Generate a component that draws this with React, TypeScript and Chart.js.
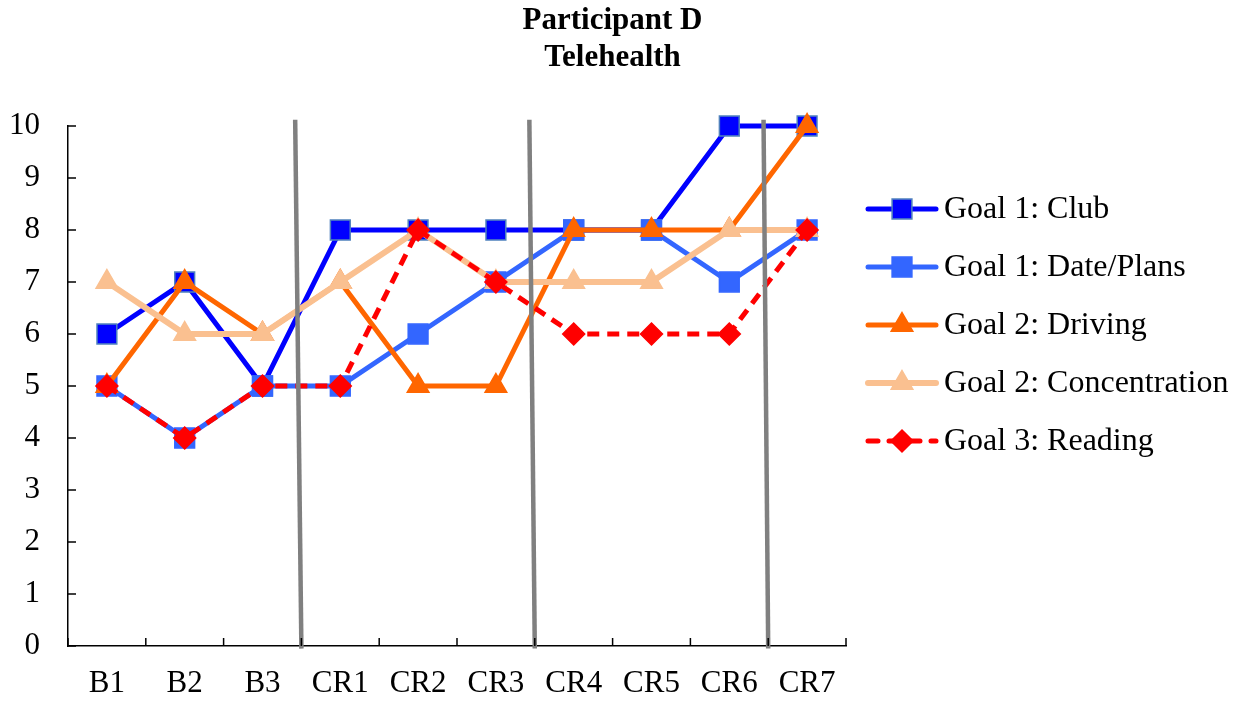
import React, { useEffect, useRef } from "react";
import { Chart, registerables } from "chart.js";

Chart.register(...registerables);

const categories = ["B1", "B2", "B3", "CR1", "CR2", "CR3", "CR4", "CR5", "CR6", "CR7"];
const club = [6, 7, 5, 8, 8, 8, 8, 8, 10, 10];
const datePlans = [5, 4, 5, 5, 6, 7, 8, 8, 7, 8];
const driving = [5, 7, 6, 7, 5, 5, 8, 8, 8, 10];
const concentration = [7, 6, 6, 7, 8, 7, 7, 7, 8, 8];
const reading = [5, 4, 5, 5, 8, 7, 6, 6, 6, 8];
const seriesNames = [
  "Goal 1: Club",
  "Goal 1: Date/Plans",
  "Goal 2: Driving",
  "Goal 2: Concentration",
  "Goal 3: Reading",
];
const titleLines = ["Participant D", "Telehealth"];
// phase change lines, in category units: position at top of axis and at bottom
const phaseTop = [2.42, 5.43, 8.44];
const phaseBottom = [2.5, 5.5, 8.5];

const FONT = "'Liberation Serif', 'Times New Roman', serif";

type Style = {
  color: string;
  border: string;
  width: number;
  point: string;
  radius: number;
  dash: number[];
};

const styles: Style[] = [
  { color: "#0000FF", border: "#4F81BD", width: 5, point: "rect", radius: 14, dash: [] },
  { color: "#3366FF", border: "#3366FF", width: 5, point: "rect", radius: 14, dash: [] },
  { color: "#FF6600", border: "#FF6600", width: 5, point: "triangle", radius: 12.5, dash: [] },
  { color: "#FAC090", border: "#FAC090", width: 6, point: "triangle", radius: 12.5, dash: [] },
  { color: "#FF0000", border: "#FF0000", width: 5, point: "rectRot", radius: 11, dash: [12, 8] },
];

const seriesData = [club, datePlans, driving, concentration, reading];

function drawMarker(ctx: CanvasRenderingContext2D, s: Style, x: number, y: number) {
  ctx.save();
  ctx.fillStyle = s.color;
  ctx.strokeStyle = s.border;
  ctx.lineWidth = 1.5;
  ctx.setLineDash([]);
  ctx.beginPath();
  const r = s.radius;
  if (s.point === "rect") {
    const h = r * Math.SQRT1_2;
    ctx.rect(x - h, y - h, 2 * h, 2 * h);
  } else if (s.point === "triangle") {
    ctx.moveTo(x, y - r);
    ctx.lineTo(x + r * Math.sin((2 * Math.PI) / 3), y + r * 0.5);
    ctx.lineTo(x - r * Math.sin((2 * Math.PI) / 3), y + r * 0.5);
    ctx.closePath();
  } else {
    ctx.moveTo(x, y - r);
    ctx.lineTo(x + r, y);
    ctx.lineTo(x, y + r);
    ctx.lineTo(x - r, y);
    ctx.closePath();
  }
  ctx.fill();
  ctx.stroke();
  ctx.restore();
}

const decorPlugin = {
  id: "decor",
  afterDatasetsDraw(chart: any) {
    const ctx: CanvasRenderingContext2D = chart.ctx;
    const xs = chart.scales.x;
    const ys = chart.scales.y;
    ctx.save();
    ctx.strokeStyle = "#808080";
    ctx.lineWidth = 4.5;
    const topY = ys.getPixelForValue(10.12);
    const botY = ys.getPixelForValue(-0.05);
    phaseTop.forEach((t, i) => {
      ctx.beginPath();
      ctx.moveTo(xs.getPixelForValue(t), topY);
      ctx.lineTo(xs.getPixelForValue(phaseBottom[i]), botY);
      ctx.stroke();
    });
    ctx.restore();
  },
  afterDraw(chart: any) {
    const ctx: CanvasRenderingContext2D = chart.ctx;
    const xs = chart.scales.x;
    const ys = chart.scales.y;
    const area = chart.chartArea;
    ctx.save();
    // inner tick marks
    ctx.strokeStyle = "#000";
    ctx.lineWidth = 1.5;
    ys.ticks.forEach((t: any) => {
      const y = ys.getPixelForValue(t.value);
      ctx.beginPath();
      ctx.moveTo(area.left, y);
      ctx.lineTo(area.left + 8, y);
      ctx.stroke();
    });
    for (let i = 0; i <= categories.length; i++) {
      const x = xs.getPixelForValue(i - 0.5);
      ctx.beginPath();
      ctx.moveTo(x, area.bottom);
      ctx.lineTo(x, area.bottom - 8);
      ctx.stroke();
    }
    // title
    ctx.fillStyle = "#000";
    ctx.textAlign = "center";
    ctx.textBaseline = "middle";
    ctx.font = `bold 31px ${FONT}`;
    const cx = chart.width / 2 - 8;
    titleLines.forEach((line, i) => {
      ctx.fillText(line, cx, 21 + i * 37);
    });
    // legend
    const lx = area.right + 20;
    const ly = area.top + 83;
    ctx.font = `32px ${FONT}`;
    ctx.textAlign = "left";
    seriesNames.forEach((name, i) => {
      const s = styles[i];
      const y = ly + i * 58;
      ctx.save();
      ctx.strokeStyle = s.color;
      ctx.lineWidth = s.width;
      ctx.lineCap = "round";
      if (s.dash.length) ctx.setLineDash([10, 11]);
      ctx.beginPath();
      ctx.moveTo(lx + 2, y);
      ctx.lineTo(lx + 70, y);
      ctx.stroke();
      ctx.restore();
      drawMarker(ctx, s, lx + 36, y);
      ctx.fillStyle = "#000";
      ctx.fillText(name, lx + 78, y + 1);
    });
    ctx.restore();
  },
};

export default function App() {
  const ref = useRef<HTMLCanvasElement | null>(null);
  useEffect(() => {
    if (!ref.current) return;
    const chart = new Chart(ref.current, {
      type: "line",
      data: {
        labels: categories,
        datasets: seriesData.map((d, i) => ({
          label: seriesNames[i],
          data: d,
          borderColor: styles[i].color,
          backgroundColor: styles[i].color,
          borderWidth: styles[i].width,
          borderDash: styles[i].dash,
          pointStyle: styles[i].point as any,
          pointRadius: styles[i].radius,
          pointHoverRadius: styles[i].radius,
          pointBackgroundColor: styles[i].color,
          pointBorderColor: styles[i].border,
          pointBorderWidth: 1.5,
          tension: 0,
          fill: false,
          clip: false as any,
          order: seriesData.length - i,
        })),
      },
      options: {
        animation: false,
        responsive: true,
        maintainAspectRatio: false,
        layout: { padding: { top: 126, right: 395, bottom: 0, left: 0 } },
        plugins: {
          legend: { display: false },
          title: { display: false },
          tooltip: { enabled: false },
        },
        scales: {
          x: {
            offset: true,
            grid: { display: true, drawOnChartArea: false, drawTicks: false, offset: true },
            border: { display: true, color: "#000", width: 1.5 },
            ticks: { color: "#000", font: { family: FONT, size: 31 }, padding: 19, maxRotation: 0, autoSkip: false },
            afterFit: (s: any) => {
              s.height = 56;
            },
          },
          y: {
            min: 0,
            max: 10,
            grid: { display: true, drawOnChartArea: false, drawTicks: false },
            border: { display: true, color: "#000", width: 1.5 },
            ticks: { stepSize: 1, color: "#000", font: { family: FONT, size: 31 }, padding: 28 },
            afterFit: (s: any) => {
              s.width = 68;
            },
          },
        },
      },
      plugins: [decorPlugin],
    });
    return () => chart.destroy();
  }, []);
  return (
    <div style={{ position: "fixed", left: 0, top: 0, width: 1241, height: 702, background: "#fff" }}>
      <canvas ref={ref} />
    </div>
  );
}
